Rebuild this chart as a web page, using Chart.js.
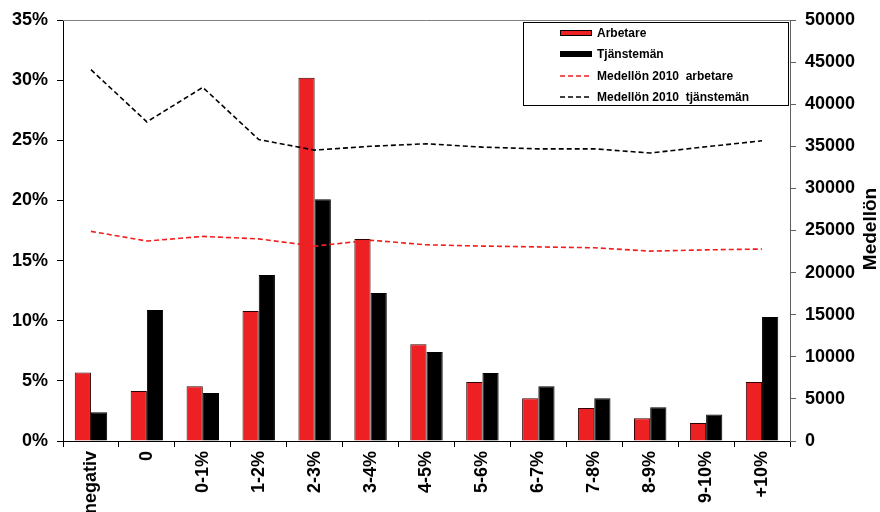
<!DOCTYPE html>
<html>
<head>
<meta charset="utf-8">
<script src="https://cdn.jsdelivr.net/npm/chart.js@4/dist/chart.umd.min.js"></script>
<style>
  html, body { margin: 0; padding: 0; background: #fff; }
  #wrap { width: 880px; height: 512px; position: relative; }
</style>
</head>
<body>
<div id="wrap"><canvas id="chart"></canvas></div>
<script>
// data
const categories = ['negativ', '0', '0-1%', '1-2%', '2-3%', '3-4%', '4-5%', '5-6%', '6-7%', '7-8%', '8-9%', '9-10%', '+10%'];
const arbetare = [5.7, 4.15, 4.55, 10.8, 30.2, 16.8, 8.05, 4.9, 3.55, 2.75, 1.9, 1.5, 4.9];
const tjansteman = [2.4, 10.9, 4.0, 13.8, 20.1, 12.3, 7.4, 5.65, 4.55, 3.55, 2.8, 2.2, 10.3];
const lonArbetare = [24900, 23750, 24300, 24000, 23150, 23850, 23300, 23150, 23050, 22950, 22550, 22700, 22800];
const lonTjansteman = [44100, 37900, 42000, 35800, 34550, 35000, 35300, 34900, 34700, 34700, 34200, 34950, 35650];
const leftTicks = { min: 0, max: 35, step: 5 };
const rightTicks = { min: 0, max: 50000, step: 5000 };

const RED = 'rgb(237,32,36)';
const FONT = 'Liberation Sans, Arial, sans-serif';

// legend box, top frame line and right axis title
const extras = {
  id: 'extras',
  afterDraw(chart) {
    const ctx = chart.ctx, a = chart.chartArea;
    ctx.save();
    ctx.strokeStyle = '#808080';
    ctx.lineWidth = 1;
    ctx.beginPath(); ctx.moveTo(a.left, a.top + 0.5); ctx.lineTo(a.right, a.top + 0.5); ctx.stroke();

    // legend
    const bx = a.right - 267, by = a.top + 2;
    ctx.fillStyle = '#fff';
    ctx.fillRect(bx, by, 265, 83);
    ctx.strokeStyle = '#000';
    ctx.strokeRect(bx + 0.5, by + 0.5, 265, 83);
    const rows = [by + 11, by + 32, by + 54, by + 75];
    ctx.font = 'bold 12px ' + FONT;
    ctx.textBaseline = 'middle';
    ctx.textAlign = 'left';
    chart.data.datasets.forEach((d, i) => {
      const y = rows[i], sx = bx + 37;
      if (d.type === 'bar') {
        ctx.fillStyle = d.backgroundColor;
        ctx.fillRect(sx, y - 3, 32, 6);
        ctx.strokeStyle = '#000';
        ctx.lineWidth = 1;
        ctx.strokeRect(sx + 0.5, y - 2.5, 31, 5);
      } else {
        ctx.strokeStyle = d.borderColor;
        ctx.lineWidth = 1.5;
        ctx.setLineDash([5, 3]);
        ctx.beginPath(); ctx.moveTo(sx, y); ctx.lineTo(sx + 32, y); ctx.stroke();
        ctx.setLineDash([]);
      }
      ctx.fillStyle = '#000';
      ctx.fillText(d.label, sx + 37, y + 1);
    });

    // right axis title
    ctx.translate(871, 229);
    ctx.rotate(-Math.PI / 2);
    ctx.font = 'bold 19px ' + FONT;
    ctx.textAlign = 'center';
    ctx.fillText('Medellön', 0, 0);
    ctx.restore();
  }
};

const tickFont = { family: FONT, size: 18, weight: 'bold' };

new Chart(document.getElementById('chart'), {
  data: {
    labels: categories,
    datasets: [
      { type: 'bar', label: 'Arbetare', data: arbetare, backgroundColor: RED, borderColor: '#300', borderWidth: 1, yAxisID: 'y', order: 2, categoryPercentage: 0.58, barPercentage: 1 },
      { type: 'bar', label: 'Tjänstemän', data: tjansteman, backgroundColor: '#000', borderColor: '#000', borderWidth: 1, yAxisID: 'y', order: 2, categoryPercentage: 0.58, barPercentage: 1 },
      { type: 'line', label: 'Medellön 2010  arbetare', data: lonArbetare, borderColor: 'rgb(240,30,30)', borderWidth: 1.6, borderDash: [5, 3], pointRadius: 0, tension: 0, yAxisID: 'y1', order: 1 },
      { type: 'line', label: 'Medellön 2010  tjänstemän', data: lonTjansteman, borderColor: '#000', borderWidth: 1.6, borderDash: [5, 3], pointRadius: 0, tension: 0, yAxisID: 'y1', order: 1 }
    ]
  },
  options: {
    responsive: true,
    maintainAspectRatio: false,
    animation: false,
    layout: { padding: { top: 20, left: 0, right: 0, bottom: 0 } },
    plugins: { legend: { display: false }, tooltip: { enabled: false } },
    scales: {
      x: {
        offset: true,
        grid: { drawOnChartArea: false, offset: true, tickLength: 6, color: '#000' },
        border: { color: '#000' },
        ticks: { minRotation: 90, maxRotation: 90, autoSkip: false, color: '#000', font: tickFont, padding: 4 },
        afterFit(s) { s.height = 71; }
      },
      y: {
        position: 'left',
        min: leftTicks.min, max: leftTicks.max,
        grid: { drawOnChartArea: false, tickLength: 6, color: '#000' },
        border: { color: '#000' },
        ticks: { stepSize: leftTicks.step, color: '#000', font: tickFont, padding: 9, callback: v => v + '%' },
        afterFit(s) { s.width = 63; }
      },
      y1: {
        position: 'right',
        min: rightTicks.min, max: rightTicks.max,
        grid: { drawOnChartArea: false, tickLength: 6, color: '#606060' },
        border: { color: '#606060' },
        ticks: { stepSize: rightTicks.step, color: '#000', font: tickFont, padding: 9, callback: v => String(v) },
        afterFit(s) { s.width = 90; }
      }
    }
  },
  plugins: [extras]
});
</script>
</body>
</html>
